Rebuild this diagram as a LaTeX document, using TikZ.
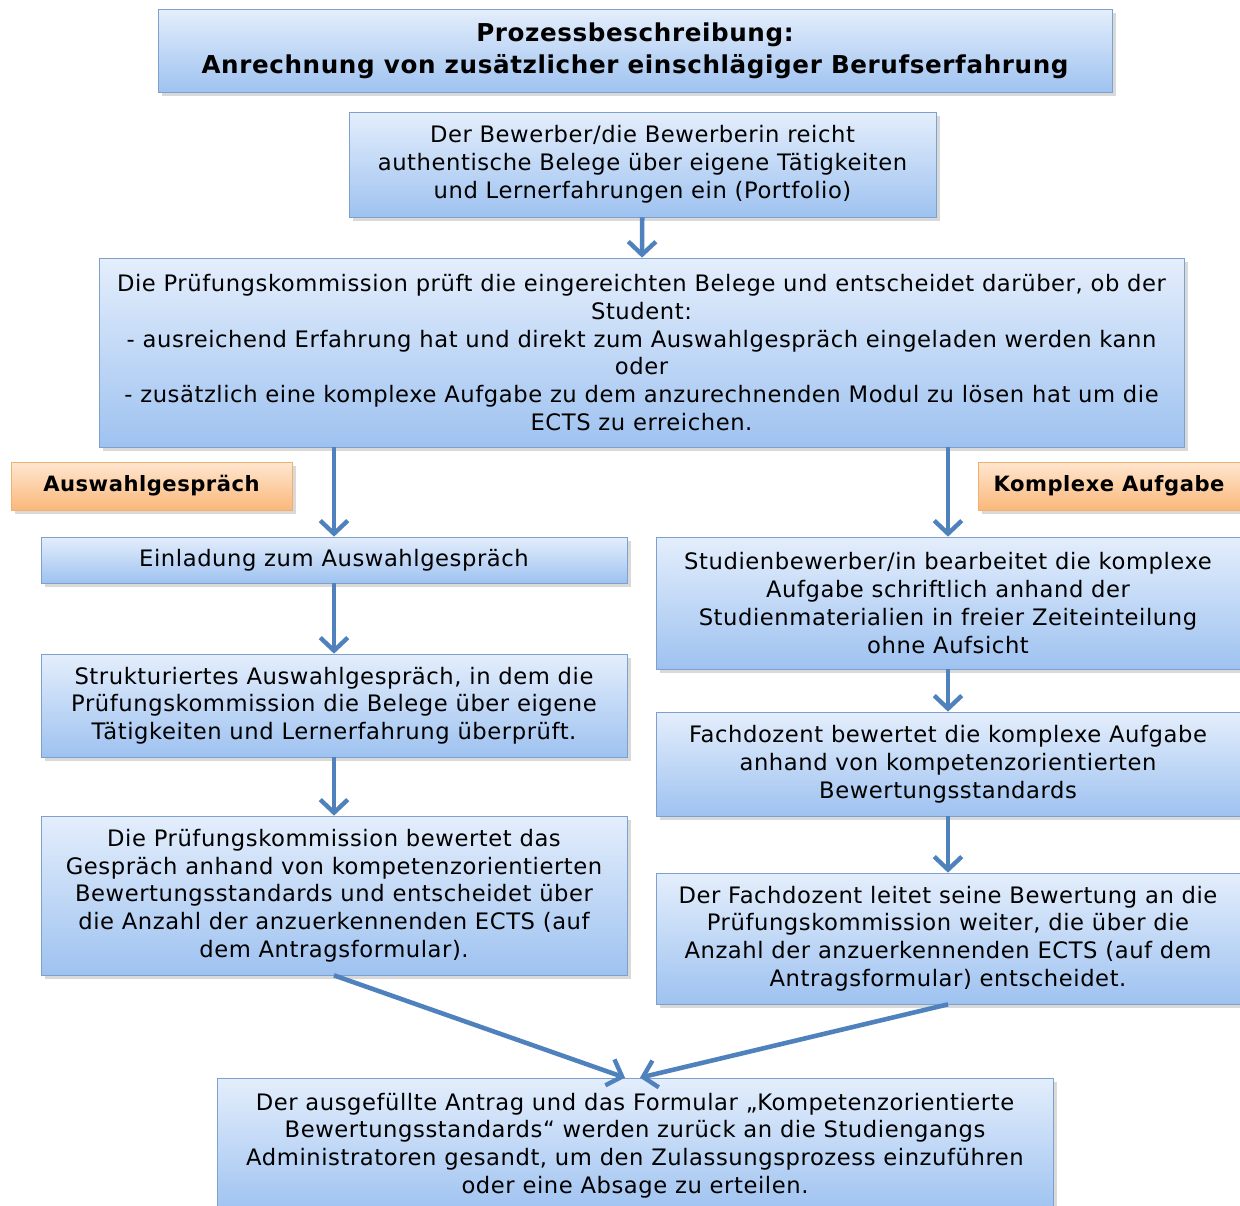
\documentclass[tikz,border=0pt]{standalone}
\usepackage{fontspec}
\setmainfont[LetterSpace=2.5]{DejaVu Sans}
\usepackage{xcolor}
\usepackage{tikz}
\usetikzlibrary{arrows.meta, positioning, shadows}
\definecolor{boxline}{RGB}{125, 160, 205}
\definecolor{boxtop}{RGB}{228, 238, 252}
\definecolor{boxbottom}{RGB}{158, 194, 240}
\definecolor{tagline}{RGB}{240, 175, 115}
\definecolor{tagtop}{RGB}{255, 230, 208}
\definecolor{tagbottom}{RGB}{250, 184, 122}
\definecolor{flowblue}{RGB}{79, 129, 189}

\begin{document}
\begin{tikzpicture}[
    box/.style={rectangle, draw=boxline, top color=boxtop, bottom color=boxbottom,
                align=center, inner sep=2pt, font=\fontsize{12.9}{15.8}\selectfont,
                drop shadow={opacity=0.3, shadow xshift=0.07cm, shadow yshift=-0.07cm}},
    tag/.style={rectangle, draw=tagline, top color=tagtop, bottom color=tagbottom,
                align=center, inner sep=2pt, font=\fontsize{12}{14}\selectfont\bfseries,
                drop shadow={opacity=0.3, shadow xshift=0.07cm, shadow yshift=-0.07cm}},
    arrow/.style={-{Straight Barb[length=2.6mm, width=5.5mm, line width=2.5pt]}, line width=2.6pt, flowblue}
]
\useasboundingbox (0,0) rectangle (24.8,-24.1);

\node[box, minimum width=19.08cm, minimum height=1.66cm, font=\fontsize{14}{18}\selectfont\bfseries] (title) at (12.70,-1.02)
    {Prozessbeschreibung:\\Anrechnung von zusätzlicher einschlägiger Berufserfahrung};
\node[box, minimum width=11.74cm, minimum height=2.10cm] (portfolio) at (12.85,-3.29)
    {Der Bewerber/die Bewerberin reicht\\authentische Belege über eigene Tätigkeiten\\und Lernerfahrungen ein (Portfolio)};
\node[box, minimum width=21.70cm, minimum height=3.78cm] (pruefung) at (12.83,-7.05)
    {Die Prüfungskommission prüft die eingereichten Belege und entscheidet darüber, ob der\\
     Student:\\
     - ausreichend Erfahrung hat und direkt zum Auswahlgespräch eingeladen werden kann\\
     oder\\
     - zusätzlich eine komplexe Aufgabe zu dem anzurechnenden Modul zu lösen hat um die\\
     ECTS zu erreichen.};

\node[tag, minimum width=5.62cm, minimum height=0.96cm] (tagleft) at (3.03,-9.72) {Auswahlgespräch};
\node[tag, minimum width=5.24cm, minimum height=0.96cm] (tagright) at (22.18,-9.72) {Komplexe Aufgabe};

% linker Zweig
\node[box, minimum width=11.72cm, minimum height=0.92cm] (einladung) at (6.68,-11.20)
    {Einladung zum Auswahlgespräch};
\node[box, minimum width=11.72cm, minimum height=2.06cm] (gespraech) at (6.68,-14.11)
    {Strukturiertes Auswahlgespräch, in dem die\\Prüfungskommission die Belege über eigene\\Tätigkeiten und Lernerfahrung überprüft.};
\node[box, minimum width=11.72cm, minimum height=3.18cm] (bewertung) at (6.68,-17.91)
    {Die Prüfungskommission bewertet das\\Gespräch anhand von kompetenzorientierten\\Bewertungsstandards und entscheidet über\\die Anzahl der anzuerkennenden ECTS (auf\\dem Antragsformular).};

% rechter Zweig
\node[box, minimum width=11.68cm, minimum height=2.64cm] (aufgabe) at (18.96,-12.06)
    {Studienbewerber/in bearbeitet die komplexe\\Aufgabe schriftlich anhand der\\Studienmaterialien in freier Zeiteinteilung\\ohne Aufsicht};
\node[box, minimum width=11.68cm, minimum height=2.08cm] (fachdozent) at (18.96,-15.28)
    {Fachdozent bewertet die komplexe Aufgabe\\anhand von kompetenzorientierten\\Bewertungsstandards};
\node[box, minimum width=11.68cm, minimum height=2.62cm] (weiterleitung) at (18.96,-18.77)
    {Der Fachdozent leitet seine Bewertung an die\\Prüfungskommission weiter, die über die\\Anzahl der anzuerkennenden ECTS (auf dem\\Antragsformular) entscheidet.};

\node[box, minimum width=16.72cm, minimum height=2.70cm] (antrag) at (12.70,-22.91)
    {Der ausgefüllte Antrag und das Formular „Kompetenzorientierte\\Bewertungsstandards“ werden zurück an die Studiengangs\\Administratoren gesandt, um den Zulassungsprozess einzuführen\\oder eine Absage zu erteilen.};

\draw[arrow] (portfolio) -- (pruefung);
\draw[arrow] (pruefung.south -| einladung) -- (einladung);
\draw[arrow] (pruefung.south -| aufgabe) -- (aufgabe);
\draw[arrow] (einladung) -- (gespraech);
\draw[arrow] (gespraech) -- (bewertung);
\draw[arrow] (aufgabe) -- (fachdozent);
\draw[arrow] (fachdozent) -- (weiterleitung);
\draw[arrow] (bewertung.south) -- ([xshift=-2mm]antrag.north);
\draw[arrow] (weiterleitung.south) -- ([xshift=1mm]antrag.north);
\end{tikzpicture}
\end{document}
